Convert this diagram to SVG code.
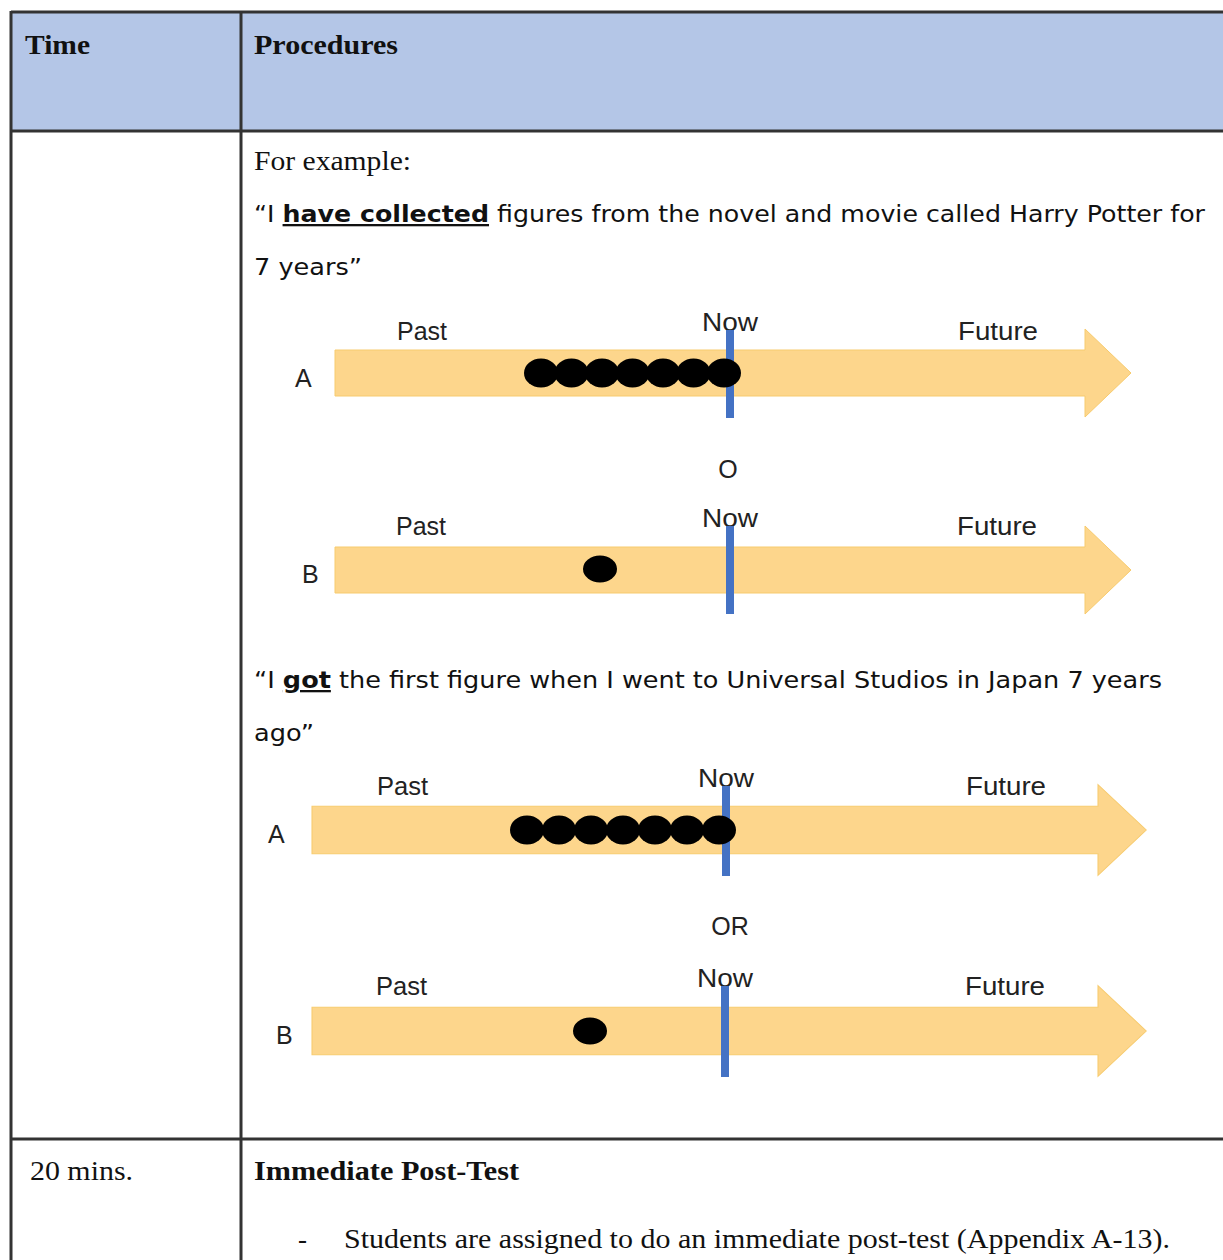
<svg xmlns="http://www.w3.org/2000/svg" width="1223" height="1260" viewBox="0 0 1223 1260">
  <style>
    .serif { font-family: "Liberation Serif", "Times New Roman", serif; font-size: 27px; fill: #111; }
    .bold { font-weight: bold; }
    .quote { font-family: "DejaVu Sans", Verdana, sans-serif; font-size: 23px; fill: #111; }
    .lbl { font-family: "Liberation Sans", Arial, sans-serif; font-size: 25px; fill: #222; }
    .arrow { fill: #fdd68c; stroke: #f7cb6e; stroke-width: 1; }
    .now { fill: #4472c4; }
    .dot { fill: #000; }
    .rule { stroke: #333; fill: none; }
  </style>
  <defs>
    <!-- timeline arrow shape, origin at left edge of shaft centre -->
    <path id="tl-arrow" d="M0,-23 H750 V-44 L796,0 L750,44 V23 H0 Z"/>
  </defs>
  <rect width="1223" height="1260" fill="#fff"/>

  <!-- table frame -->
  <g id="table">
    <rect x="11" y="12" width="1212" height="119" fill="#b4c6e7"/>
    <line class="rule" x1="11" y1="12" x2="1223" y2="12" stroke-width="3"/>
    <line class="rule" x1="11" y1="11" x2="11" y2="1260" stroke-width="3"/>
    <line class="rule" x1="241" y1="11" x2="241" y2="1260" stroke-width="3"/>
    <line class="rule" x1="11" y1="131" x2="1223" y2="131" stroke-width="3"/>
    <line class="rule" x1="11" y1="1139" x2="1223" y2="1139" stroke-width="3"/>
  </g>

  <g id="header">
    <text class="serif bold" x="25" y="54" font-size="28" textLength="65" lengthAdjust="spacingAndGlyphs">Time</text>
    <text class="serif bold" x="254" y="54" font-size="28" textLength="144" lengthAdjust="spacingAndGlyphs">Procedures</text>
  </g>

  <g id="example-text">
    <text class="serif" x="254" y="170" textLength="157" lengthAdjust="spacingAndGlyphs">For example:</text>
    <text class="quote" x="254" y="222" textLength="951" lengthAdjust="spacingAndGlyphs">“I <tspan font-weight="bold" text-decoration="underline">have collected</tspan> figures from the novel and movie called Harry Potter for</text>
    <text class="quote" x="254" y="275" textLength="108" lengthAdjust="spacingAndGlyphs">7 years”</text>
  </g>

  <!-- timeline 1A -->
  <g id="timeline-1a">
    <use href="#tl-arrow" class="arrow" transform="translate(335,373)"/>
    <text class="lbl" x="397" y="340" textLength="50" lengthAdjust="spacingAndGlyphs">Past</text>
    <text class="lbl" x="702" y="331" textLength="56" lengthAdjust="spacingAndGlyphs">Now</text>
    <text class="lbl" x="958" y="340" textLength="80" lengthAdjust="spacingAndGlyphs">Future</text>
    <text class="lbl" x="295" y="387">A</text>
    <g class="dot">
      <ellipse cx="541" cy="373" rx="17" ry="14.5"/>
      <ellipse cx="571.5" cy="373" rx="17" ry="14.5"/>
      <ellipse cx="602" cy="373" rx="17" ry="14.5"/>
      <ellipse cx="632.5" cy="373" rx="17" ry="14.5"/>
      <ellipse cx="663" cy="373" rx="17" ry="14.5"/>
      <ellipse cx="693.5" cy="373" rx="17" ry="14.5"/>
    </g>
    <rect class="now" x="726" y="330" width="8" height="88"/>
    <ellipse class="dot" cx="724" cy="373" rx="17" ry="14.5"/>
  </g>

  <text class="lbl" x="728" y="478" text-anchor="middle">O</text>

  <!-- timeline 1B -->
  <g id="timeline-1b">
    <use href="#tl-arrow" class="arrow" transform="translate(335,570)"/>
    <text class="lbl" x="396" y="535" textLength="50" lengthAdjust="spacingAndGlyphs">Past</text>
    <text class="lbl" x="702" y="527" textLength="56" lengthAdjust="spacingAndGlyphs">Now</text>
    <text class="lbl" x="957" y="535" textLength="80" lengthAdjust="spacingAndGlyphs">Future</text>
    <text class="lbl" x="302" y="583">B</text>
    <ellipse class="dot" cx="600" cy="569" rx="17" ry="13.5"/>
    <rect class="now" x="726" y="526" width="8" height="88"/>
  </g>

  <g id="example-text-2">
    <text class="quote" x="254" y="688" textLength="908" lengthAdjust="spacingAndGlyphs">“I <tspan font-weight="bold" text-decoration="underline">got</tspan> the first figure when I went to Universal Studios in Japan 7 years</text>
    <text class="quote" x="254" y="741" textLength="60" lengthAdjust="spacingAndGlyphs">ago”</text>
  </g>

  <!-- timeline 2A -->
  <g id="timeline-2a">
    <use href="#tl-arrow" class="arrow" transform="translate(312,830) scale(1.048,1.03)"/>
    <text class="lbl" x="377" y="795" textLength="51" lengthAdjust="spacingAndGlyphs">Past</text>
    <text class="lbl" x="698" y="787" textLength="56" lengthAdjust="spacingAndGlyphs">Now</text>
    <text class="lbl" x="966" y="795" textLength="80" lengthAdjust="spacingAndGlyphs">Future</text>
    <text class="lbl" x="268" y="843">A</text>
    <g class="dot">
      <ellipse cx="527" cy="830" rx="17" ry="14.5"/>
      <ellipse cx="559" cy="830" rx="17" ry="14.5"/>
      <ellipse cx="591" cy="830" rx="17" ry="14.5"/>
      <ellipse cx="623" cy="830" rx="17" ry="14.5"/>
      <ellipse cx="655" cy="830" rx="17" ry="14.5"/>
      <ellipse cx="687" cy="830" rx="17" ry="14.5"/>
    </g>
    <rect class="now" x="722" y="786" width="8" height="90"/>
    <ellipse class="dot" cx="719" cy="830" rx="17" ry="14.5"/>
  </g>

  <text class="lbl" x="730" y="935" text-anchor="middle">OR</text>

  <!-- timeline 2B -->
  <g id="timeline-2b">
    <use href="#tl-arrow" class="arrow" transform="translate(312,1031) scale(1.048,1.03)"/>
    <text class="lbl" x="376" y="995" textLength="51" lengthAdjust="spacingAndGlyphs">Past</text>
    <text class="lbl" x="697" y="987" textLength="56" lengthAdjust="spacingAndGlyphs">Now</text>
    <text class="lbl" x="965" y="995" textLength="80" lengthAdjust="spacingAndGlyphs">Future</text>
    <text class="lbl" x="276" y="1044">B</text>
    <ellipse class="dot" cx="590" cy="1031" rx="17" ry="13.5"/>
    <rect class="now" x="721" y="986" width="8" height="91"/>
  </g>

  <g id="post-test-row">
    <text class="serif" x="30" y="1180" textLength="103" lengthAdjust="spacingAndGlyphs">20 mins.</text>
    <text class="serif bold" x="254" y="1180" textLength="265" lengthAdjust="spacingAndGlyphs">Immediate Post-Test</text>
    <text class="serif" x="298" y="1248">-</text>
    <text class="serif" x="344" y="1248" textLength="826" lengthAdjust="spacingAndGlyphs">Students are assigned to do an immediate post-test (Appendix A-13).</text>
  </g>
</svg>
